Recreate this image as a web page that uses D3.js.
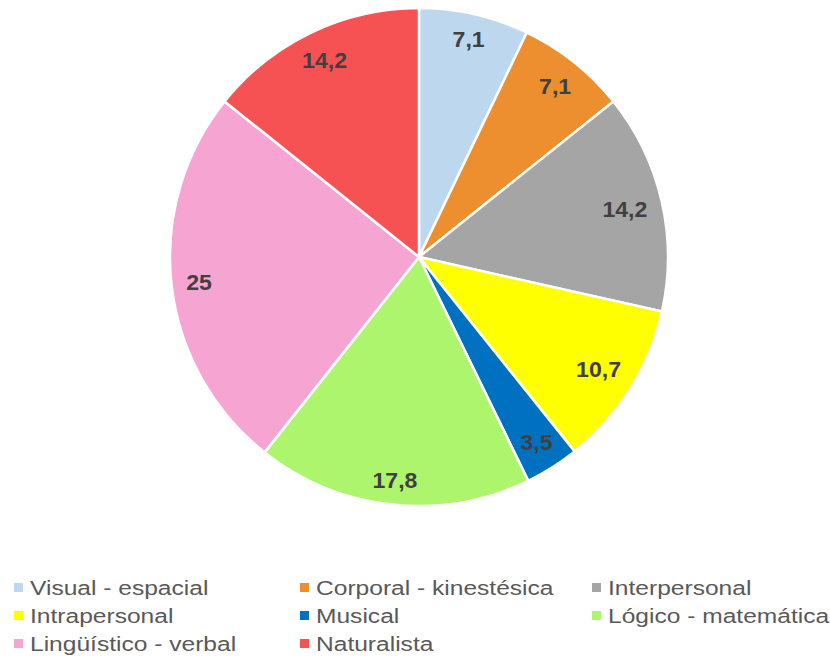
<!DOCTYPE html>
<html><head><meta charset="utf-8">
<script src="https://cdn.jsdelivr.net/npm/d3@7"></script>
<style>body{margin:0;background:#fff}</style>
</head><body>
<svg id="c" width="830" height="659"></svg>
<script>
const categories = ["Visual - espacial","Corporal - kinestésica","Interpersonal","Intrapersonal","Musical","Lógico - matemática","Lingüístico - verbal","Naturalista"];
const values = [7.1,7.1,14.2,10.7,3.5,17.8,25,14.2];
const labels = ["7,1","7,1","14,2","10,7","3,5","17,8","25","14,2"];
const colors = ["#bdd7ee","#ed8f2e","#a5a5a5","#ffff00","#0070c0","#adf56c","#f6a5d2","#f75253"];

const svg = d3.select("#c");
const cx = 419, cy = 257, R = 249, inset = 14;
const data = categories.map((c,i)=>({cat:c,v:values[i],lab:labels[i],col:colors[i]}));
const pie = d3.pie().value(d=>d.v).sort(null);
const arcs = pie(data);
const arc = d3.arc().innerRadius(0).outerRadius(R);
const g = svg.append("g").attr("transform",`translate(${cx},${cy})`);
g.selectAll("path").data(arcs).join("path")
  .attr("d",arc).attr("fill",d=>d.data.col)
  .attr("stroke","#fff").attr("stroke-width",2.5).attr("stroke-linejoin","round");
const sx = 1.05;
g.selectAll("text").data(arcs).join("text")
  .attr("text-anchor","middle").attr("dy","0.36em")
  .attr("font-family","Liberation Sans, Arial, sans-serif").attr("font-weight","bold")
  .attr("font-size",22).attr("fill","#404040").text(d=>d.data.lab)
  .attr("transform",function(d){
    const w = this.getComputedTextLength()*sx, h = 16;
    const a = (d.startAngle+d.endAngle)/2;
    const ux = Math.sin(a), uy = -Math.cos(a);
    const p = Math.abs(ux)*w/2 + Math.abs(uy)*h/2;
    const r = R - inset - p;
    return `translate(${ux*r},${uy*r}) scale(${sx},1)`;
  });

const colX = [14,300,592], rowY = [587,615,643];
const leg = svg.append("g");
data.forEach((d,i)=>{
  const x = colX[i%3], y = rowY[Math.floor(i/3)];
  leg.append("rect").attr("x",x).attr("y",y-4).attr("width",9).attr("height",9).attr("fill",d.col);
  leg.append("text").attr("transform",`translate(${x+16},${y}) scale(1.17,1)`)
    .attr("dy","0.36em").attr("font-family","Liberation Sans, Arial, sans-serif")
    .attr("font-size",21).attr("fill","#595959").text(d.cat);
});
</script>
</body></html>
